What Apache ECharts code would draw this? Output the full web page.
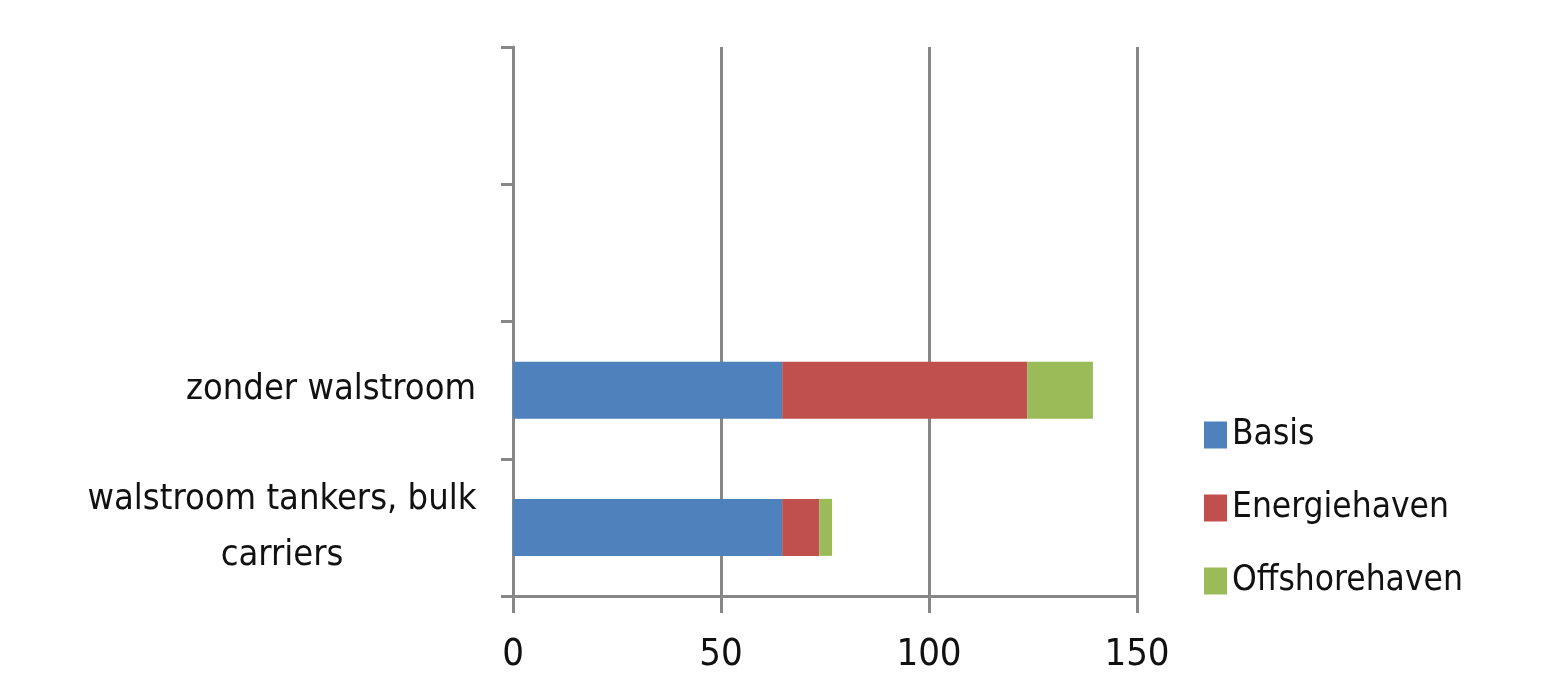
<!DOCTYPE html>
<html>
<head>
<meta charset="utf-8">
<script src="https://cdn.jsdelivr.net/npm/echarts@6/dist/echarts.min.js"></script>
<style>
html,body{margin:0;padding:0;background:#fff;}
#chart{width:1542px;height:674px;}
</style>
</head>
<body>
<div id="chart"></div>
<script>
const categories = ['walstroom tankers, bulk carriers', 'zonder walstroom', '', ''];
const basis = [64.7, 64.7, null, null];
const energiehaven = [8.9, 58.9, null, null];
const offshorehaven = [3.1, 15.8, null, null];
const xTicks = [0, 50, 100, 150];

const FONT = '"DejaVu Sans Condensed", "Liberation Sans Narrow", "Liberation Sans", sans-serif';
const GRAY = '#878787';

function wrapLabel(v) {
  const maxChars = 24;
  const words = v.split(' ');
  const lines = [];
  let cur = '';
  words.forEach(w => {
    if (cur && (cur + ' ' + w).length > maxChars) { lines.push(cur); cur = w; }
    else cur = cur ? cur + ' ' + w : w;
  });
  if (cur) lines.push(cur);
  if (lines.length <= 1) return v;
  return lines.map(l => '{c|' + l + '}').join('\n');
}

const chart = echarts.init(document.getElementById('chart'));
chart.setOption({
  animation: false,
  backgroundColor: '#fff',
  textStyle: { fontFamily: FONT },
  grid: { left: 513, right: 405, top: 47, bottom: 74, containLabel: false },
  legend: {
    orient: 'vertical',
    left: 1199,
    top: 408,
    itemWidth: 23,
    itemHeight: 27,
    itemGap: 29,
    icon: 'rect',
    textStyle: { fontFamily: FONT, fontSize: 35, color: '#111', lineHeight: 44, padding: [0, 0, 0, 0] },
    data: ['Basis', 'Energiehaven', 'Offshorehaven']
  },
  xAxis: {
    type: 'value',
    min: xTicks[0],
    max: xTicks[xTicks.length - 1],
    interval: 50,
    axisLine: { show: true, lineStyle: { color: GRAY, width: 3 } },
    axisTick: { show: true, length: 17, lineStyle: { color: GRAY, width: 3 } },
    splitLine: { show: true, lineStyle: { color: GRAY, width: 3 } },
    axisLabel: { fontFamily: FONT, fontSize: 38, color: '#111', margin: 40 }
  },
  yAxis: {
    type: 'category',
    data: categories,
    axisLine: { show: true, lineStyle: { color: GRAY, width: 3 } },
    axisTick: { show: true, length: 12, lineStyle: { color: GRAY, width: 3 } },
    splitLine: { show: false },
    axisLabel: {
      fontFamily: FONT, fontSize: 36, color: '#111', margin: 37, lineHeight: 56,
      formatter: wrapLabel,
      rich: { c: { width: 388, align: 'center', fontFamily: FONT, fontSize: 36, color: '#111', lineHeight: 56 } }
    }
  },
  series: [
    { name: 'Basis', type: 'bar', stack: 'total', barWidth: 57, data: basis, itemStyle: { color: '#4F81BD' } },
    { name: 'Energiehaven', type: 'bar', stack: 'total', barWidth: 57, data: energiehaven, itemStyle: { color: '#C0504D' } },
    { name: 'Offshorehaven', type: 'bar', stack: 'total', barWidth: 57, data: offshorehaven, itemStyle: { color: '#9BBB59' } }
  ]
});
</script>
</body>
</html>
